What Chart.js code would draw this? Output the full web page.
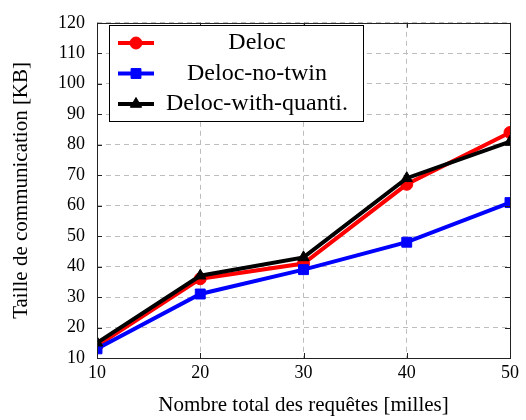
<!DOCTYPE html>
<html>
<head>
<meta charset="utf-8">
<script src="https://cdn.jsdelivr.net/npm/chart.js@4/dist/chart.umd.min.js"></script>
<style>
  html, body { margin: 0; padding: 0; background: #fff; }
  #wrap { width: 526px; height: 420px; position: relative; }
</style>
</head>
<body>
<div id="wrap"><canvas id="c" width="526" height="420"></canvas></div>
<script>
// Number of requests (thousands)
const requests = [10, 20, 30, 40, 50];
// Communication size [KB] per variant
const deloc = [14, 36, 41, 67, 84];
const delocNoTwin = [13, 31, 39, 48, 61];
const delocWithQuanti = [15, 37, 43, 69, 81];

const seriesNames = ['Deloc', 'Deloc-no-twin', 'Deloc-with-quanti.'];
const yTicks = [10, 20, 30, 40, 50, 60, 70, 80, 90, 100, 110, 120];
const xTicks = [10, 20, 30, 40, 50];

const SERIF = "'Liberation Serif', 'DejaVu Serif', serif";

function toPoints(ys) {
  return requests.map((x, i) => ({ x: x, y: ys[i] }));
}

// Frame, inner tick marks and a boxed legend with centred labels
const framePlugin = {
  id: 'frame',
  afterDatasetsDraw(chart) {
    const { ctx, chartArea: a, scales } = chart;
    ctx.save();
    ctx.strokeStyle = '#222';
    ctx.lineWidth = 1;
    ctx.setLineDash([]);
    ctx.beginPath();
    yTicks.forEach(v => {
      const y = Math.round(scales.y.getPixelForValue(v)) + 0.5;
      ctx.moveTo(a.left, y); ctx.lineTo(a.left + 5, y);
      ctx.moveTo(a.right, y); ctx.lineTo(a.right - 5, y);
    });
    xTicks.forEach(v => {
      const x = Math.round(scales.x.getPixelForValue(v)) + 0.5;
      ctx.moveTo(x, a.bottom); ctx.lineTo(x, a.bottom - 5);
      ctx.moveTo(x, a.top); ctx.lineTo(x, a.top + 5);
    });
    ctx.stroke();
    ctx.strokeRect(Math.round(a.left) + 0.5, Math.round(a.top) + 0.5,
                   Math.round(a.right - a.left), Math.round(a.bottom - a.top));
    ctx.restore();
  },
  afterDraw(chart) {
    const { ctx } = chart;
    const box = { x: 109.5, y: 25.5, w: 254, h: 96 };
    ctx.save();
    ctx.fillStyle = '#fff';
    ctx.fillRect(box.x, box.y, box.w, box.h);
    ctx.strokeStyle = '#000';
    ctx.lineWidth = 1;
    ctx.strokeRect(box.x, box.y, box.w, box.h);
    const rows = [43, 73.5, 104];
    chart.data.datasets.forEach((ds, i) => {
      const y = rows[i];
      ctx.strokeStyle = ds.borderColor;
      ctx.lineWidth = ds.borderWidth;
      ctx.beginPath();
      ctx.moveTo(118, y); ctx.lineTo(154, y);
      ctx.stroke();
      ctx.fillStyle = ds.pointBackgroundColor;
      ctx.strokeStyle = ds.pointBorderColor;
      ctx.lineWidth = ds.pointBorderWidth;
      Chart.helpers.drawPoint(ctx, {
        pointStyle: ds.pointStyle,
        radius: ds.pointRadius,
        rotation: 0,
        borderWidth: ds.pointBorderWidth
      }, 136, y);
      ctx.fillStyle = '#000';
      ctx.font = '24px ' + SERIF;
      ctx.textAlign = 'center';
      ctx.textBaseline = 'middle';
      ctx.fillText(seriesNames[i], 257, y);
    });
    ctx.restore();
  }
};

const datasets = [
  {
    label: seriesNames[0],
    data: toPoints(deloc),
    borderColor: '#ff0000',
    backgroundColor: '#ff0000',
    borderWidth: 4,
    pointStyle: 'circle',
    pointRadius: 6,
    pointBorderWidth: 1,
    pointBackgroundColor: '#ff0000',
    pointBorderColor: '#ff0000',
    order: 3
  },
  {
    label: seriesNames[1],
    data: toPoints(delocNoTwin),
    borderColor: '#0000ff',
    backgroundColor: '#0000ff',
    borderWidth: 4,
    pointStyle: 'rect',
    pointRadius: 7,
    pointBorderWidth: 1,
    pointBackgroundColor: '#0000ff',
    pointBorderColor: '#0000ff',
    order: 2
  },
  {
    label: seriesNames[2],
    data: toPoints(delocWithQuanti),
    borderColor: '#000000',
    backgroundColor: '#000000',
    borderWidth: 4,
    pointStyle: 'triangle',
    pointRadius: 6.5,
    pointBorderWidth: 1,
    pointBackgroundColor: '#000000',
    pointBorderColor: '#000000',
    order: 1
  }
];

new Chart(document.getElementById('c'), {
  type: 'line',
  data: { datasets: datasets },
  options: {
    responsive: false,
    animation: false,
    events: [],
    layout: { padding: { top: 14, right: 16, bottom: 0, left: 0 } },
    plugins: {
      legend: { display: false },
      tooltip: { enabled: false }
    },
    elements: { line: { tension: 0 } },
    scales: {
      x: {
        type: 'linear',
        min: 10,
        max: 50,
        afterBuildTicks(scale) { scale.ticks = xTicks.map(v => ({ value: v })); },
        afterFit(scale) { scale.height = 62; },
        grid: { color: '#bdbdbd', lineWidth: 1, drawTicks: false },
        border: { display: false, dash: [5, 4] },
        ticks: {
          padding: 4,
          color: '#000',
          font: { family: SERIF, size: 18 }
        },
        title: {
          display: true,
          text: 'Nombre total des requêtes [milles]',
          color: '#000',
          font: { family: SERIF, size: 21 },
          padding: { top: 0, bottom: 1.5 }
        }
      },
      y: {
        type: 'linear',
        min: 10,
        max: 120,
        afterBuildTicks(scale) { scale.ticks = yTicks.map(v => ({ value: v })); },
        afterFit(scale) { scale.width = 97; },
        grid: { color: '#bdbdbd', lineWidth: 1, drawTicks: false },
        border: { display: false, dash: [5, 4] },
        ticks: {
          padding: 12,
          color: '#000',
          font: { family: SERIF, size: 18 }
        },
        title: {
          display: true,
          text: 'Taille de communication [KB]',
          color: '#000',
          font: { family: SERIF, size: 21 },
          padding: { top: 8.7, bottom: 0 }
        }
      }
    }
  },
  plugins: [framePlugin]
});
</script>
</body>
</html>
